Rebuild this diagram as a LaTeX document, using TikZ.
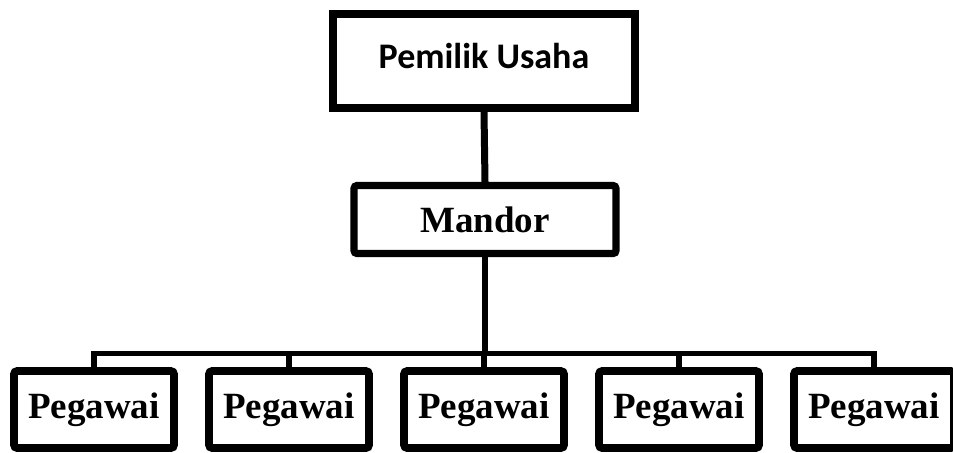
\documentclass[tikz,border=0pt]{standalone}
\usepackage{fontspec}
\setmainfont{Liberation Serif}
\newfontfamily\calibri{Carlito}
\usetikzlibrary{shadows}

\begin{document}
\begin{tikzpicture}[x=0.5pt, y=-0.5pt,
    owner/.style = {draw, line width=4pt, fill=white, minimum width=151pt, minimum height=47pt, inner sep=0pt, text depth=5pt, font=\calibri\bfseries\fontsize{18}{20}\selectfont},
    chief/.style = {draw, line width=3.6pt, fill=white, rounded corners=1.5pt, minimum width=131pt, minimum height=34pt, inner sep=0pt, font=\bfseries\fontsize{18.5}{20}\selectfont, drop shadow={opacity=0.3, shadow xshift=1.5pt, shadow yshift=-1.5pt}},
    staff/.style = {draw, line width=3.8pt, fill=white, rounded corners=1.5pt, minimum width=80pt, minimum height=38.5pt, inner sep=0pt, font=\bfseries\fontsize{18.5}{20}\selectfont, drop shadow={opacity=0.3, shadow xshift=1.5pt, shadow yshift=-1.5pt}},
    link/.style = {line width=3.5pt},
    branch/.style = {line width=2.6pt}]
    \useasboundingbox (0,0) rectangle (953,452);

    \node at (484, 61) [owner] (owner) {Pemilik Usaha};
    \node at (485, 219.5) [chief] (mandor) {Mandor};

    \node at (94, 409.5) [staff] (peg1) {Pegawai};
    \node at (289, 409.5) [staff] (peg2) {Pegawai};
    \node at (484, 409.5) [staff] (peg3) {Pegawai};
    \node at (679, 409.5) [staff] (peg4) {Pegawai};
    \node at (874, 409.5) [staff] (peg5) {Pegawai};

    \coordinate (bar) at (484, 353.5);

    % owner to mandor
    \draw[link] (owner.south) -- (mandor.north);

    % mandor to the staff
    \draw[branch] (mandor.south) -- (mandor.south |- bar);
    \draw[branch] (peg1.north) -- (peg1.north |- bar) -- (peg5.north |- bar) -- (peg5.north);
    \draw[branch] (peg2.north) -- (peg2.north |- bar);
    \draw[branch] (peg3.north) -- (peg3.north |- bar);
    \draw[branch] (peg4.north) -- (peg4.north |- bar);

\end{tikzpicture}
\end{document}
